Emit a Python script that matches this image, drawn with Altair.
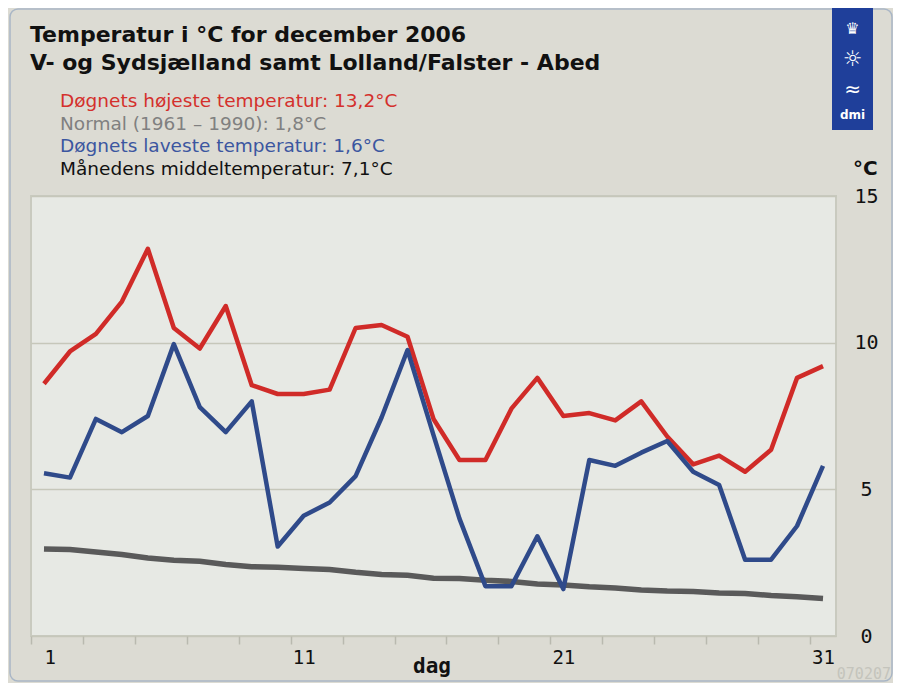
import altair as alt
import pandas as pd

days = list(range(1, 32))
hi = [8.6, 9.7, 10.3, 11.4, 13.2, 10.5, 9.8, 11.25, 8.55, 8.25, 8.25, 8.4, 10.5, 10.6, 10.2, 7.4,
      6.0, 6.0, 7.75, 8.8, 7.5, 7.6, 7.35, 8.0, 6.8, 5.85, 6.15, 5.6, 6.35, 8.8, 9.2]
lo = [5.55, 5.4, 7.4, 6.95, 7.5, 9.95, 7.8, 6.95, 8.0, 3.05, 4.1, 4.55, 5.45, 7.45, 9.75, 6.85,
      4.0, 1.7, 1.7, 3.4, 1.6, 6.0, 5.8, 6.25, 6.65, 5.6, 5.15, 2.6, 2.6, 3.75, 5.8]
normal = [2.97, 2.95, 2.86, 2.78, 2.66, 2.58, 2.55, 2.44, 2.36, 2.34, 2.3, 2.27, 2.17, 2.1, 2.07, 1.97,
          1.96, 1.9, 1.86, 1.77, 1.74, 1.68, 1.64, 1.57, 1.53, 1.52, 1.47, 1.45, 1.38, 1.34, 1.28]

title_lines = ["Temperatur i °C for december 2006",
               "V- og Sydsjælland samt Lolland/Falster - Abed"]
legend_lines = ["Døgnets højeste temperatur: 13,2°C",
                "Normal (1961 – 1990): 1,8°C",
                "Døgnets laveste temperatur: 1,6°C",
                "Månedens middeltemperatur: 7,1°C"]
legend_colors = ["#d4302c", "#808080", "#3b56a0", "#111111"]
y_ticks = [0, 5, 10, 15]
x_label_days = [1, 11, 21, 31]
unit_text = "°C"
x_title = "dag"
stamp = "070207"

df_hi = pd.DataFrame({"day": days, "value": hi})
df_lo = pd.DataFrame({"day": days, "value": lo})
df_no = pd.DataFrame({"day": days, "value": normal})

tick_vals = [d + 0.5 for d in range(0, 32)]
lab_expr = ("indexof([" + ",".join(str(d - 0.5) for d in x_label_days) +
            "], datum.value) >= 0 ? format(datum.value + 0.5, 'd') : ''")

x_enc = alt.X("day:Q",
              scale=alt.Scale(domain=[0.5, 31.5], nice=False, zero=False),
              axis=alt.Axis(values=tick_vals, labelExpr=lab_expr, labelOffset=13,
                            tickSize=8, tickColor="#b9b9af", tickWidth=1.5,
                            domain=False, grid=False, title=None, labelOverlap=False,
                            labelPadding=4, labelBaseline="top",
                            labelFont="DejaVu Sans Mono", labelFontSize=19,
                            labelColor="#111111"))
y_enc = alt.Y("value:Q",
              scale=alt.Scale(domain=[0, 15], nice=False),
              axis=alt.Axis(orient="right", values=y_ticks, grid=True,
                            gridColor="#c6c7ba", gridWidth=1.5, ticks=False,
                            domain=False, title=None, labelAlign="center",
                            labelBaseline="middle", labelPadding=30,
                            labelFont="DejaVu Sans Mono", labelFontSize=20,
                            labelColor="#111111"))

line_no = alt.Chart(df_no).mark_line(color="#5a5a5a", strokeWidth=5.5).encode(x=x_enc, y=y_enc)
line_hi = alt.Chart(df_hi).mark_line(color="#d02b28", strokeWidth=4.5, strokeJoin="round").encode(x="day:Q", y="value:Q")
line_lo = alt.Chart(df_lo).mark_line(color="#2f4a8a", strokeWidth=4.5, strokeJoin="round").encode(x="day:Q", y="value:Q")

one = pd.DataFrame({"k": [0]})


def text_layer(txt, x, y, color="#111111", size=15, weight="normal", align="left",
               font="DejaVu Sans"):
    return alt.Chart(pd.DataFrame({"t": [txt]})).mark_text(
        align=align, baseline="alphabetic", color=color, fontSize=size,
        fontWeight=weight, font=font).encode(
        text="t:N", x=alt.value(x), y=alt.value(y))


frame = alt.Chart(one).mark_rect(fill=None, stroke="#a9b6c6", strokeWidth=1.5,
                                 cornerRadius=8).encode(
    x=alt.value(-21), x2=alt.value(861), y=alt.value(-187), y2=alt.value(485))
logo = alt.Chart(one).mark_rect(fill="#1f3f9a").encode(
    x=alt.value(801), x2=alt.value(842), y=alt.value(-188), y2=alt.value(-66))

layers = [frame, logo,
          text_layer("♛", 821.5, -162, "white", 16, align="center"),
          text_layer("☼", 821.5, -130, "white", 22, align="center"),
          text_layer("≈", 821.5, -100, "white", 20, align="center"),
          text_layer("dmi", 821.5, -77, "white", 12, "bold", align="center"),
          text_layer(title_lines[0], -1, -154, size=22, weight="bold"),
          text_layer(title_lines[1], -1, -126, size=22, weight="bold")]
for i, (t, c) in enumerate(zip(legend_lines, legend_colors)):
    layers.append(text_layer(t, 29, -89 + i * 22.7, c, 18.5))
layers += [
    text_layer(unit_text, 822, -21, size=20, weight="bold"),
    text_layer(x_title, 401, 477, size=21, weight="bold", align="center",
               font="DejaVu Sans Mono"),
    text_layer(stamp, 860, 483, "#c4c4bc", 15, align="right", font="DejaVu Sans Mono"),
    line_no, line_hi, line_lo,
]

chart = alt.layer(*layers).properties(
    width=805, height=440,
    autosize=alt.AutoSizeParams(type="none"),
    padding={"left": 23, "top": 188, "right": 57, "bottom": 47},
    background="#dcdbd3",
).configure_view(fill="#e7e9e4", stroke="#c9cabf", strokeWidth=2)

chart.save("out.html", embed_options={"renderer": "svg", "actions": False})
